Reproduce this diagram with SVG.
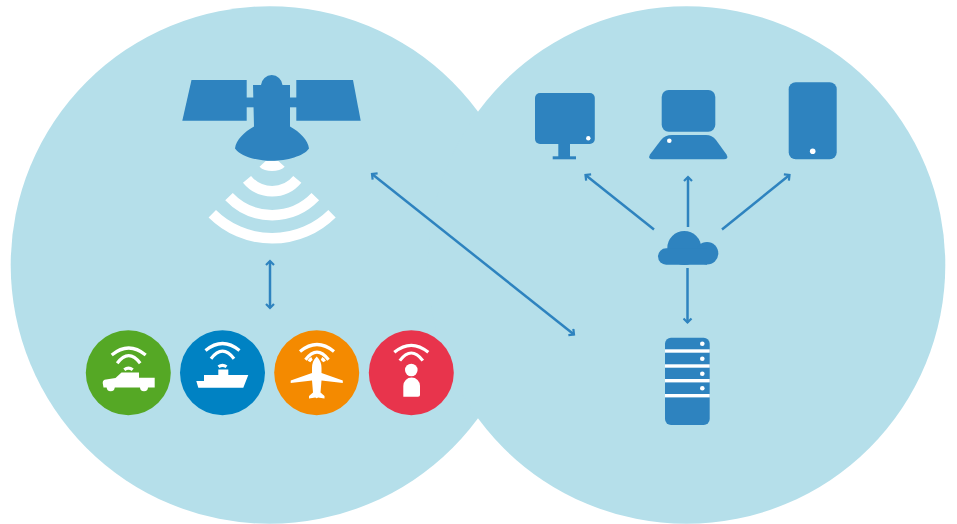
<svg xmlns="http://www.w3.org/2000/svg" width="957" height="524" viewBox="0 0 957 524">
<style>
.bg{fill:#b5dfea}
.ic{fill:#2e83bf}
.w{fill:#fff}
.beam{fill:none;stroke:#fff;stroke-width:10.5}
.wifi{fill:none;stroke:#fff;stroke-width:3.2}
.arrow{fill:none;stroke:#2e83bf;stroke-width:2.5;marker-end:url(#head)}
.both{marker-start:url(#head)}
</style>
<defs>
<marker id="head" viewBox="0 0 10 10" refX="7.600" refY="5" markerUnits="userSpaceOnUse" markerWidth="10" markerHeight="10" orient="auto-start-reverse">
<path d="M3.600 1 L7.600 5 L3.600 9" fill="none" stroke="#2e83bf" stroke-width="2.200"/>
</marker>
<g id="wifi">
<path class="wifi" d="M-17 0 Q0 -14 17 0"/>
<path class="wifi" d="M-11.500 8.300 Q0 -6.900 11.500 8.300"/>
</g>
</defs>
<rect width="957" height="524" fill="#fff"/>
<g id="background">
<circle class="bg" cx="269.500" cy="265" r="258.800"/>
<circle class="bg" cx="686.500" cy="265" r="258.800"/>
</g>
<g id="connectors">
<path class="arrow both" d="M270 261V308"/>
<path class="arrow both" d="M372 174L574 334.500"/>
<path class="arrow" d="M654 229.500L585.500 175"/>
<path class="arrow" d="M688 227V177"/>
<path class="arrow" d="M722 229.500L789.500 175"/>
<path class="arrow" d="M687.500 268V322.500"/>
</g>
<g id="satellite">
<path class="ic" d="M191.500 80H246.700V120.700H182.300Z"/>
<path class="ic" d="M296.300 80H353L360.700 120.700H296.300Z"/>
<rect class="ic" x="246" y="97.500" width="51" height="9.800"/>
<path class="ic" d="M253 85H261A10.800 11 0 0 1 282.500 85H290V126.500C300 132 308 140 309 148.500C304 156 287 160.800 271.700 160.800C256 160.800 240 156 235 148.500C236 140 244 132 254 126.500Z"/>
<path class="w" d="M259.500 166.700L265.700 161H278.300L284.700 166.700C279 172.500 265 172.500 259.500 166.700Z"/>
<path class="beam" d="M247 179.300A32.600 32.600 0 0 0 297.300 179.300"/>
<path class="beam" d="M229 196.700A59.700 59.700 0 0 0 315.300 196.700"/>
<path class="beam" d="M212.300 213.700A85 85 0 0 0 332 213.700"/>
</g>
<g id="truck-badge">
<circle cx="128.300" cy="372.700" r="42.500" fill="#55a825"/>
<use href="#wifi" x="128.700" y="355"/>
<path class="wifi" d="M124.300 369.800Q128.500 366.400 132.700 369.800"/>
<path class="w" d="M102.700 383Q102.700 379.800 106 379.500L115.500 378L121.500 372.500H139V377.700H154.700V387.500H103.500Z"/>
<circle class="w" cx="110.700" cy="387.200" r="4"/>
<circle class="w" cx="144" cy="387.200" r="4"/>
</g>
<g id="ship-badge">
<circle cx="222.500" cy="372.700" r="42.500" fill="#0082c3"/>
<use href="#wifi" x="222.500" y="350.500"/>
<path class="wifi" d="M218.500 366.800Q222.500 364 226.500 366.800"/>
<path class="w" d="M218.300 369.500H228.300V375H248.300L243.300 387.700H198.300L196.300 381H204V375H218.300Z"/>
</g>
<g id="plane-badge">
<circle cx="316.700" cy="372.700" r="42.500" fill="#f48a00"/>
<use href="#wifi" x="317" y="351.500"/>
<path class="wifi" d="M309 361.500Q310 359.500 312 358.500M321.500 358.500Q323.500 359.500 324.500 361.500" stroke-width="2.400"/>
<path class="w" d="M316.700 356.500Q321.500 361 321.500 368V373L342.800 380.500V383L321.500 380.500 320.500 392.500 324.500 396V398.500L318 397.500Q316.700 399 315.400 397.500L309 398.500V396L313 392.500 312 380.500 290.700 383V380.500L312 373V368Q312 361 316.700 356.500Z"/>
</g>
<g id="person-badge">
<circle cx="411.300" cy="372.700" r="42.500" fill="#e8344c"/>
<use href="#wifi" x="411.300" y="352.300"/>
<circle class="w" cx="411.300" cy="370" r="6.300"/>
<path class="w" d="M403.300 396.700V386A8.350 8.500 0 0 1 420 386V395Q420 396.700 418 396.700Z"/>
</g>
<g id="monitor">
<rect class="ic" x="535" y="93" width="59.800" height="51" rx="5"/>
<rect class="ic" x="558.300" y="143" width="11.700" height="14"/>
<rect class="ic" x="552.700" y="156.300" width="23.300" height="3"/>
<circle class="w" cx="588.300" cy="138.300" r="2.200"/>
</g>
<g id="laptop">
<rect class="ic" x="661.700" y="90" width="53.600" height="41.700" rx="7"/>
<path class="ic" d="M672 135H706Q712 135 716 140L726.500 154.500Q729 159.300 724 159.300H652.500Q647.500 159.300 650 154.500L661 140Q665 135 672 135Z"/>
<circle class="w" cx="669.300" cy="140.700" r="2.300"/>
</g>
<g id="tablet">
<rect class="ic" x="788.700" y="82.300" width="48" height="77" rx="7"/>
<circle class="w" cx="812.700" cy="151.300" r="2.800"/>
</g>
<g id="cloud">
<circle class="ic" cx="684.300" cy="248" r="17"/>
<circle class="ic" cx="707" cy="253.300" r="11.300"/>
<path class="ic" d="M666.200 248.300H707V264.700H666.200A8.200 8.200 0 0 1 666.200 248.300Z"/>
</g>
<g id="server">
<rect class="ic" x="665" y="337.700" width="44.700" height="87.300" rx="6"/>
<rect class="w" x="665" y="349.300" width="44.700" height="3.400"/>
<rect class="w" x="665" y="364.300" width="44.700" height="3.400"/>
<rect class="w" x="665" y="379" width="44.700" height="3.400"/>
<rect class="w" x="665" y="394" width="44.700" height="3.400"/>
<circle class="w" cx="702.300" cy="343.700" r="2.300"/>
<circle class="w" cx="702.300" cy="358.700" r="2.300"/>
<circle class="w" cx="702.300" cy="373.700" r="2.300"/>
<circle class="w" cx="702.300" cy="388.300" r="2.300"/>
</g>
</svg>
